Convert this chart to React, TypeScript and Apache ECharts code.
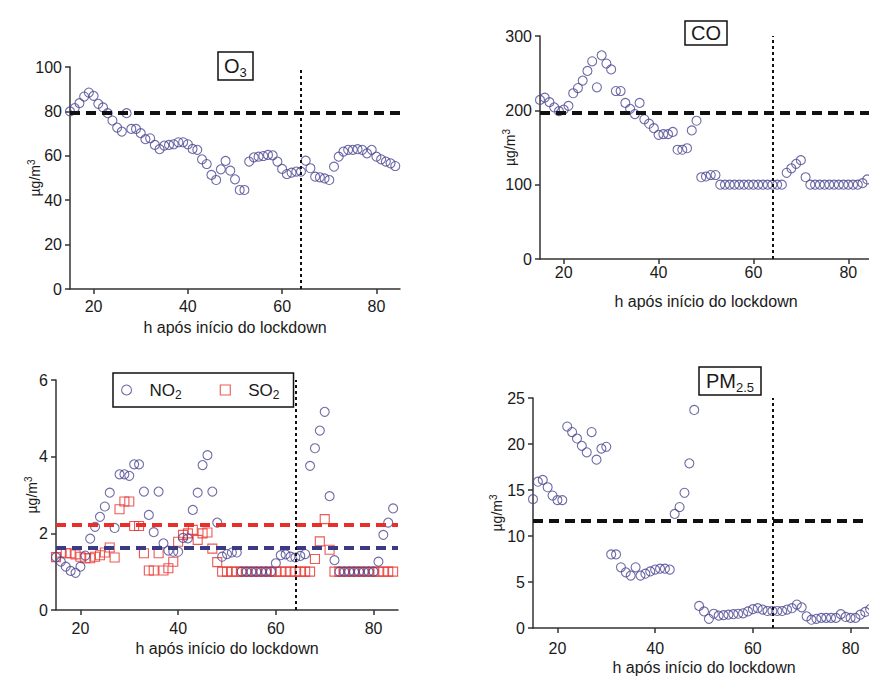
import React, { useEffect, useRef } from "react";
import * as echarts from "echarts";

// ---------- data ----------
const hours = [
  15, 16, 17, 18, 19, 20, 21, 22, 23, 24, 25, 26, 27, 28, 29, 30, 31, 32, 33, 34,
  35, 36, 37, 38, 39, 40, 41, 42, 43, 44, 45, 46, 47, 48, 49, 50, 51, 52, 53, 54,
  55, 56, 57, 58, 59, 60, 61, 62, 63, 64, 65, 66, 67, 68, 69, 70, 71, 72, 73, 74,
  75, 76, 77, 78, 79, 80, 81, 82, 83, 84,
];
const xTicks = [20, 40, 60, 80];

const o3 = [
  80, 81.5, 83.7, 86.7, 88.5, 87, 83.4, 81.8, 79.2, 75.9, 72.7, 70.9, 79.2, 72.1, 72.1, 70.2, 67.5, 67.9, 64.9, 63,
  64.6, 64.9, 65.2, 66.1, 66.1, 65.2, 63.1, 62.7, 58.4, 56.3, 51.4, 49.1, 53.9, 57.7, 53.3, 49.4, 44.6, 44.6, 57.4, 59.3,
  59.6, 59.9, 60.4, 60.2, 57.4, 54.1, 51.8, 52.4, 52.9, 52.9, 57.8, 54.4, 50.6, 50.3, 49.8, 49.1, 55.1, 59.6, 61.9, 62.7,
  62.7, 63, 62.7, 61.1, 62.7, 59.6, 58.4, 57.4, 56.6, 55.4,
];
const co = [
  214, 217, 211, 204, 199, 201, 206, 223, 230, 240, 253, 266, 231, 274, 263, 255, 226, 226, 210, 202,
  195, 210, 188, 182, 176, 167, 168, 168, 171, 147, 147, 149, 173, 186, 110, 111, 113, 113, 100, 100,
  100, 100, 100, 100, 100, 100, 100, 100, 100, 100, 100, 100, 116, 122, 128, 133, 110, 100, 100, 100,
  100, 100, 100, 100, 100, 100, 100, 100, 102, 107,
];
const no2 = [
  1.38, 1.26, 1.13, 1.02, 0.97, 1.13, 1.42, 1.86, 2.17, 2.43, 2.7, 3.06, 2.14, 3.54, 3.54, 3.5, 3.8, 3.8, 3.09, 2.48,
  2.03, 3.09, 1.74, 1.55, 1.52, 1.52, 1.88, 1.87, 2.61, 3.06, 3.78, 4.04, 3.09, 2.28, 1.39, 1.46, 1.5, 1.5, 1.0, 1.0,
  1.0, 1.0, 1.0, 1.0, 1.0, 1.22, 1.43, 1.45, 1.39, 1.37, 1.41, 1.46, 3.76, 4.22, 4.68, 5.17, 2.97, 1.3, 1.0, 1.0,
  1.0, 1.0, 1.0, 1.0, 1.0, 1.0, 1.26, 1.96, 2.28, 2.65,
];
const so2 = [
  1.38, 1.5, 1.48, 1.48, 1.45, 1.39, 1.35, 1.35, 1.39, 1.43, 1.5, 1.63, 1.37, 2.63, 2.83, 2.83, 2.19, 2.19, 1.48, 1.03,
  1.03, 1.48, 1.03, 1.09, 1.26, 1.78, 1.96, 2.0, 2.09, 1.83, 2.0, 2.02, 1.6, 1.25, 1.0, 1.0, 1.0, 1.0, 1.0, 1.0,
  1.0, 1.0, 1.0, 1.0, 1.0, 1.0, 1.0, 1.0, 1.0, 1.0, 1.0, 1.0, 1.0, 1.33, 1.79, 2.37, 1.57, 1.0, 1.0, 1.0,
  1.0, 1.0, 1.0, 1.0, 1.0, 1.0, 1.0, 1.0, 1.0, 1.0,
];
const pm25 = [
  14.0, 15.9, 16.1, 15.3, 14.4, 13.9, 13.9, 21.9, 21.3, 20.6, 19.8, 19.1, 21.3, 18.3, 19.5, 19.7, 8.0, 8.0, 6.6, 6.05,
  5.7, 6.6, 5.7, 5.9, 6.15, 6.35, 6.45, 6.45, 6.35, 12.4, 13.15, 14.7, 17.9, 23.7, 2.4, 1.8, 1.0, 1.55, 1.35, 1.4,
  1.45, 1.5, 1.55, 1.6, 1.8, 2.05, 2.15, 2.0, 1.85, 1.85, 1.85, 1.85, 2.0, 2.15, 2.55, 2.25, 1.27, 0.9, 1.0, 1.1,
  1.1, 1.1, 1.1, 1.5, 1.2, 1.1, 1.1, 1.45, 1.75, 2.05,
];

const o3Ref = 79.2;
const coRef = 197;
const no2Ref = 1.63;
const so2Ref = 2.22;
const pmRef = 11.7;
const lockdownHour = 64;

const xAxisTitle = "h após início do lockdown";
const unitTitle = "{u|µg/m}{sup|3}";

// ---------- styles ----------
const FONT = "'Liberation Sans', Arial, Helvetica, sans-serif";
const INK = "#1a1a1a";
const AXIS = "#333";
const BLUE = "#4a4690";
const RED = "#e8302a";

const pairs = (ys: number[]) => hours.map((h, i) => [h, ys[i]]);

type PanelGeom = {
  left: number; top: number; width: number; height: number;
  xLabelMargin: number; xNameGap: number; yNameGap: number;
};

const geoms: PanelGeom[] = [
  { left: 70, top: 67, width: 330, height: 222, xLabelMargin: 9, xNameGap: 30, yNameGap: 26 },
  { left: 540, top: 36, width: 332, height: 223, xLabelMargin: 5, xNameGap: 34, yNameGap: 21 },
  { left: 56, top: 380, width: 342, height: 230, xLabelMargin: 10, xNameGap: 30, yNameGap: 15 },
  { left: 533, top: 398, width: 342, height: 230, xLabelMargin: 12, xNameGap: 31, yNameGap: 27 },
];
const yRanges = [
  { max: 100, interval: 20 },
  { max: 300, interval: 100 },
  { max: 6, interval: 2 },
  { max: 25, interval: 5 },
];

function makeX(i: number) {
  const g = geoms[i];
  return {
    gridIndex: i,
    type: "value",
    min: 15,
    max: 85,
    axisLine: { show: true, onZero: false, lineStyle: { color: AXIS, width: 1.5 } },
    axisTick: { show: true, customValues: xTicks, length: 5, lineStyle: { color: AXIS, width: 1.5 } },
    axisLabel: { customValues: xTicks, fontSize: 16, color: INK, margin: g.xLabelMargin, fontFamily: FONT },
    splitLine: { show: false },
    name: xAxisTitle,
    nameLocation: "middle",
    nameGap: g.xNameGap,
    nameTextStyle: { fontSize: 16, color: INK, fontFamily: FONT },
  };
}

function makeY(i: number) {
  const g = geoms[i];
  const r = yRanges[i];
  return {
    gridIndex: i,
    type: "value",
    min: 0,
    max: r.max,
    interval: r.interval,
    axisLine: { show: true, onZero: false, lineStyle: { color: AXIS, width: 1.5 } },
    axisTick: { show: true, length: 5, lineStyle: { color: AXIS, width: 1.5 } },
    axisLabel: { fontSize: 16, color: INK, margin: 8, fontFamily: FONT },
    splitLine: { show: false },
    name: unitTitle,
    nameLocation: "middle",
    nameRotate: 90,
    nameGap: g.yNameGap,
    nameMoveOverlap: false,
    nameTextStyle: {
      fontSize: 14,
      color: INK,
      fontFamily: FONT,
      rich: {
        u: { fontSize: 14, lineHeight: 18, fontFamily: FONT, color: INK },
        sup: { fontSize: 10, lineHeight: 10, verticalAlign: "top", fontFamily: FONT, color: INK },
      },
    },
  };
}

const dashBlack = { type: [10, 6], width: 4, color: "#111" };
const dotted = { type: [3, 3], width: 2, color: "#111" };

function markLines(lines: any[]) {
  return {
    silent: true,
    symbol: ["none", "none"],
    label: { show: false },
    emphasis: { disabled: true },
    data: lines,
  };
}

const circleStyle = { color: "rgba(0,0,0,0)", borderColor: BLUE, borderWidth: 1.1 };
const squareStyle = { color: "rgba(0,0,0,0)", borderColor: RED, borderWidth: 1.1 };

const titleText = (over: any) => ({
  borderColor: "#111",
  borderWidth: 1.5,
  textStyle: {
    fontSize: 20,
    fontWeight: "normal",
    color: INK,
    fontFamily: FONT,
    lineHeight: 26,
    rich: { sub: { fontSize: 13, lineHeight: 13, verticalAlign: "bottom", fontFamily: FONT, color: INK } },
  },
  ...over,
});

export default function App() {
  const ref = useRef<HTMLDivElement>(null);

  useEffect(() => {
    if (!ref.current) return;
    const chart = echarts.init(ref.current, null, { renderer: "svg" });
    const option: any = {
      animation: false,
      textStyle: { fontFamily: FONT },
      title: [
        titleText({ text: "O{sub|3}", left: 218, top: 52, padding: [1, 6, 1, 6] }),
        titleText({
          text: "CO", left: 685, top: 21, padding: [1, 6, 1, 6],
          textStyle: { fontSize: 20, fontWeight: "normal", color: INK, fontFamily: FONT, lineHeight: 22 },
        }),
        titleText({ text: "PM{sub|2.5}", left: 699, top: 367, padding: [1, 7, 1, 7] }),
      ],
      legend: {
        data: ["NO2", "SO2"],
        left: 113,
        top: 373,
        orient: "horizontal",
        borderColor: "#111",
        borderWidth: 1.5,
        padding: [6, 14, 6, 8],
        itemGap: 38,
        itemWidth: 10,
        itemHeight: 10,
        selectedMode: false,
        itemStyle: { borderWidth: 1.1 },
        formatter: (n: string) => (n === "NO2" ? "NO{sub|2}" : "SO{sub|2}"),
        textStyle: {
          fontSize: 17,
          color: INK,
          fontFamily: FONT,
          lineHeight: 22,
          padding: [0, 0, 0, 13],
          rich: { sub: { fontSize: 12, lineHeight: 12, verticalAlign: "bottom", fontFamily: FONT, color: INK } },
        },
      },
      grid: geoms.map((g) => ({
        left: g.left, top: g.top, width: g.width, height: g.height,
        containLabel: false, outerBoundsMode: "none",
      })),
      xAxis: [0, 1, 2, 3].map(makeX),
      yAxis: [0, 1, 2, 3].map(makeY),
      series: [
        {
          name: "O3", type: "scatter", xAxisIndex: 0, yAxisIndex: 0,
          symbol: "circle", symbolSize: 9, itemStyle: circleStyle, data: pairs(o3),
          markLine: markLines([
            { yAxis: o3Ref, lineStyle: dashBlack },
            { xAxis: lockdownHour, lineStyle: dotted },
          ]),
        },
        {
          name: "CO", type: "scatter", xAxisIndex: 1, yAxisIndex: 1,
          symbol: "circle", symbolSize: 9, itemStyle: circleStyle, data: pairs(co),
          markLine: markLines([
            { yAxis: coRef, lineStyle: dashBlack },
            { xAxis: lockdownHour, lineStyle: dotted },
          ]),
        },
        {
          name: "SO2", type: "scatter", xAxisIndex: 2, yAxisIndex: 2,
          symbol: "rect", symbolSize: 9, itemStyle: squareStyle, data: pairs(so2),
          markLine: markLines([
            { yAxis: so2Ref, lineStyle: { ...dashBlack, color: RED } },
          ]),
        },
        {
          name: "NO2", type: "scatter", xAxisIndex: 2, yAxisIndex: 2,
          symbol: "circle", symbolSize: 9, itemStyle: circleStyle, data: pairs(no2),
          markLine: markLines([
            { yAxis: no2Ref, lineStyle: { ...dashBlack, color: "#3b3a85" } },
            { xAxis: lockdownHour, lineStyle: dotted },
          ]),
        },
        {
          name: "PM2.5", type: "scatter", xAxisIndex: 3, yAxisIndex: 3,
          symbol: "circle", symbolSize: 9, itemStyle: circleStyle, data: pairs(pm25),
          markLine: markLines([
            { yAxis: pmRef, lineStyle: dashBlack },
            { xAxis: lockdownHour, lineStyle: dotted },
          ]),
        },
      ],
    };
    chart.setOption(option);
    return () => chart.dispose();
  }, []);

  return (
    <div
      ref={ref}
      style={{ position: "absolute", left: 0, top: 0, width: 869, height: 677, background: "#fff" }}
    />
  );
}
